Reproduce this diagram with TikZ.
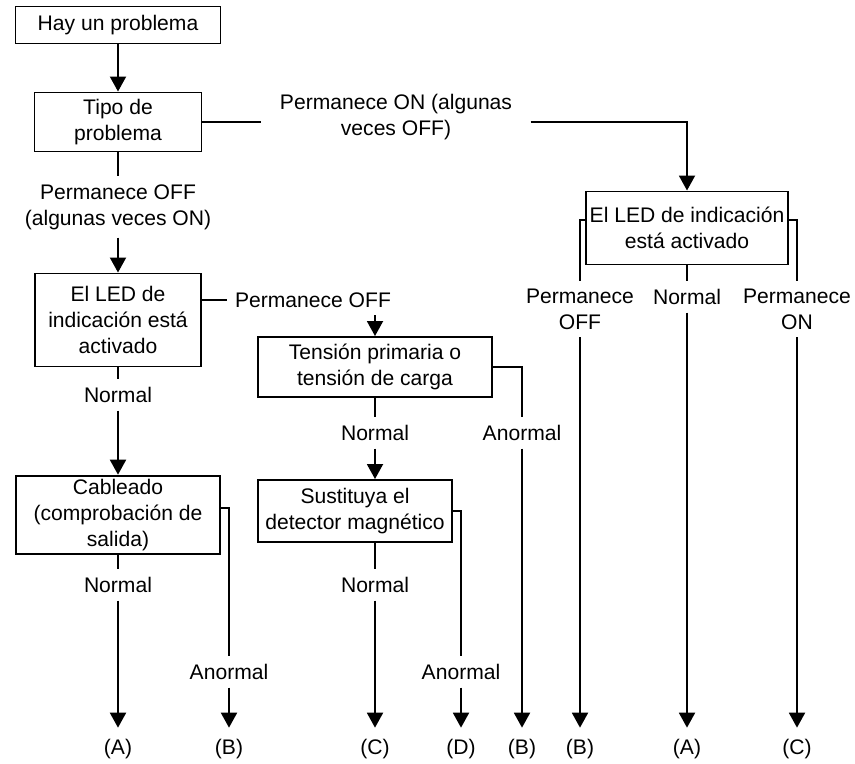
\documentclass[tikz,border=0pt]{standalone}
\usepackage{fontspec}
\setmainfont{Liberation Sans}
\usetikzlibrary{arrows.meta}
\begin{document}
\begin{tikzpicture}[line width=1.1pt,>={Triangle[length=3mm,width=3.2mm]},font=\fontsize{12}{14.8}\selectfont,
    box/.style={draw,align=center,inner sep=2pt},lab/.style={align=center,inner sep=4pt},fin/.style={inner sep=6pt}]
    \useasboundingbox(0,0)rectangle(17.1,15.26);
    % cajas
    \node[box,minimum width=4.1cm,minimum height=0.74cm](hay)at(2.36,14.76){Hay un problema};
    \node[box,minimum width=3.34cm,minimum height=1.18cm](tipo)at(2.36,12.82){Tipo de\\problema};
    \node[box,minimum width=3.32cm,minimum height=1.86cm](leda)at(2.36,8.86){El LED de\\indicación está\\activado};
    \node[box,minimum width=4.08cm,minimum height=1.48cm](cable)at(2.36,4.96){Cableado\\(comprobación de\\salida)};
    \node[box,minimum width=4.68cm,minimum height=1.2cm](tens)at(7.5,7.92){Tensión primaria o\\tensión de carga};
    \node[box,minimum width=3.88cm,minimum height=1.24cm](sust)at(7.1,5.04){Sustituya el\\detector magnético};
    \node[box,minimum width=3.98cm,minimum height=1.46cm](ledb)at(13.74,10.7){El LED de indicación\\está activado};
    % etiquetas
    \node[lab,inner xsep=10pt](lon)at(7.92,12.92){Permanece ON (algunas\\veces OFF)};
    \node[lab](loffon)at(2.36,11.12){Permanece OFF\\(algunas veces ON)};
    \node[lab](loff)at(6.26,9.26){Permanece OFF};
    \node[lab](lnor1)at(2.36,7.36){Normal};
    \node[lab](lnor2)at(2.36,3.56){Normal};
    \node[lab](lan1)at(4.58,1.82){Anormal};
    \node[lab](lnor3)at(7.5,6.6){Normal};
    \node[lab](lan2)at(10.44,6.6){Anormal};
    \node[lab](lnor4)at(7.5,3.56){Normal};
    \node[lab](lan3)at(9.22,1.82){Anormal};
    \node[lab](loffb)at(11.6,9.08){Permanece\\OFF};
    \node[lab](lnorb)at(13.74,9.32){Normal};
    \node[lab](lonb)at(15.94,9.08){Permanece\\ON};
    % salidas
    \node[fin](ea1)at(2.36,0.28){(A)};
    \node[fin](eb1)at(4.58,0.28){(B)};
    \node[fin](ec1)at(7.5,0.28){(C)};
    \node[fin](ed)at(9.22,0.28){(D)};
    \node[fin](eb2)at(10.44,0.28){(B)};
    \node[fin](eb3)at(11.6,0.28){(B)};
    \node[fin](ea2)at(13.74,0.28){(A)};
    \node[fin](ec2)at(15.94,0.28){(C)};
    % conexiones
    \draw[->](hay)--(tipo);
    \draw(tipo.east)--(tipo.east-|lon.west);
    \draw[->](tipo.east-|lon.east)-|(ledb.north);
    \draw(tipo)--(loffon);
    \draw[->](loffon)--(leda);
    \draw(loff.west-|leda.east)--(loff.west);
    \draw[->](loff.south-|tens.north)--(tens.north);
    \draw(leda)--(lnor1);
    \draw[->](lnor1)--(cable);
    \draw(cable)--(lnor2);
    \draw[->](lnor2)--(ea1);
    \draw([yshift=4pt]cable.east)-|(lan1.north);
    \draw[->](lan1)--(eb1);
    \draw(tens)--(lnor3);
    \draw[->](lnor3.south)--(lnor3.south|-sust.north);
    \draw(tens.east)-|(lan2.north);
    \draw[->](lan2)--(eb2);
    \draw(lnor4.north|-sust.south)--(lnor4.north);
    \draw[->](lnor4)--(ec1);
    \draw(sust.east)-|(lan3.north);
    \draw[->](lan3)--(ed);
    \draw([yshift=4.5pt]ledb.west)-|(loffb.north);
    \draw[->](loffb)--(eb3);
    \draw(ledb)--(lnorb);
    \draw[->](lnorb)--(ea2);
    \draw([yshift=4.5pt]ledb.east)-|(lonb.north);
    \draw[->](lonb)--(ec2);
\end{tikzpicture}
\end{document}
